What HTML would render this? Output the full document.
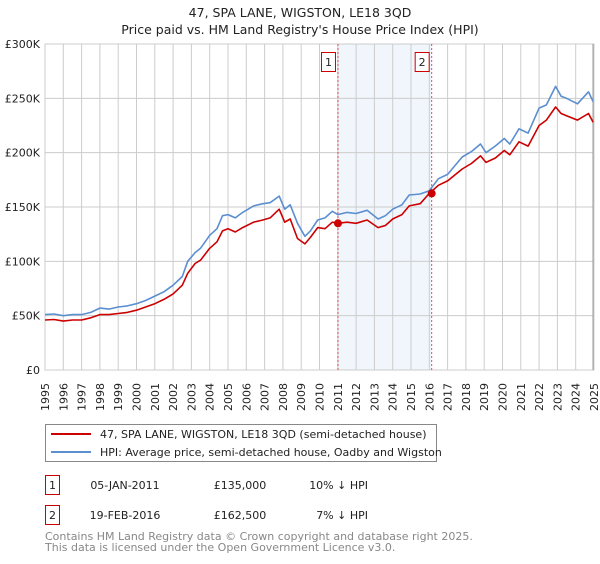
<!DOCTYPE html>
<html><head><meta charset="utf-8"><style>
body{margin:0;background:#fff;font-family:"DejaVu Sans","Liberation Sans",sans-serif;}
svg text{font-family:"DejaVu Sans","Liberation Sans",sans-serif;}
</style></head><body>
<svg width="600" height="560" xmlns="http://www.w3.org/2000/svg">
<text x="300" y="17" font-size="12.5" text-anchor="middle" fill="#222">47, SPA LANE, WIGSTON, LE18 3QD</text>
<text x="300" y="34" font-size="12.5" text-anchor="middle" fill="#222">Price paid vs. HM Land Registry's House Price Index (HPI)</text>
<g id="plot"></g>
<g id="legend">
<rect x="45.5" y="424.5" width="391" height="37" fill="#fff" stroke="#888"/>
<line x1="51" y1="434" x2="91" y2="434" stroke="#cc0000" stroke-width="2"/>
<text x="100" y="438" font-size="11" fill="#222">47, SPA LANE, WIGSTON, LE18 3QD (semi-detached house)</text>
<line x1="51" y1="452" x2="91" y2="452" stroke="#5b8fd0" stroke-width="2"/>
<text x="100" y="456" font-size="11" fill="#222">HPI: Average price, semi-detached house, Oadby and Wigston</text>
</g>
<g font-size="11" fill="#222">
<rect x="45.5" y="475.5" width="14" height="19" fill="#fff" stroke="#cc0000"/>
<text x="52.5" y="489" text-anchor="middle">1</text>
<text x="125" y="489" text-anchor="middle">05-JAN-2011</text>
<text x="240" y="489" text-anchor="middle">£135,000</text>
<text x="368" y="489" text-anchor="end">10% ↓ HPI</text>
<rect x="45.5" y="505.5" width="14" height="19" fill="#fff" stroke="#cc0000"/>
<text x="52.5" y="519" text-anchor="middle">2</text>
<text x="125" y="519" text-anchor="middle">19-FEB-2016</text>
<text x="240" y="519" text-anchor="middle">£162,500</text>
<text x="368" y="519" text-anchor="end">7% ↓ HPI</text>
</g>
<text x="45" y="540" font-size="11" fill="#888">Contains HM Land Registry data © Crown copyright and database right 2025.</text>
<text x="45" y="551" font-size="11" fill="#888">This data is licensed under the Open Government Licence v3.0.</text>
</svg>
<script>
const yTicks=[0,50000,100000,150000,200000,250000,300000];
const yTickLabels=["£0","£50K","£100K","£150K","£200K","£250K","£300K"];
const years=[1995,1996,1997,1998,1999,2000,2001,2002,2003,2004,2005,2006,2007,2008,2009,2010,2011,2012,2013,2014,2015,2016,2017,2018,2019,2020,2021,2022,2023,2024,2025];
const hpiDates=[1995.0,1995.5,1996.0,1996.5,1997.0,1997.5,1998.0,1998.5,1999.0,1999.5,2000.0,2000.5,2001.0,2001.5,2002.0,2002.5,2002.8,2003.2,2003.5,2004.0,2004.4,2004.7,2005.0,2005.4,2005.8,2006.4,2006.9,2007.3,2007.8,2008.1,2008.4,2008.8,2009.2,2009.5,2009.9,2010.3,2010.7,2011.0,2011.5,2012.0,2012.6,2013.2,2013.6,2014.0,2014.5,2014.9,2015.5,2016.0,2016.5,2017.0,2017.8,2018.3,2018.8,2019.1,2019.6,2020.1,2020.4,2020.9,2021.4,2022.0,2022.4,2022.9,2023.2,2023.5,2024.1,2024.7,2024.95];
const hpiValues=[51000,51500,50000,51000,51000,53000,57000,56000,58000,59000,61000,64000,68000,72000,78000,86000,100000,108000,112000,124000,130000,142000,143000,140000,145000,151000,153000,154000,160000,148000,152000,135000,123000,128000,138000,140000,146000,143000,145000,144000,147000,139000,142000,148000,152000,161000,162000,165000,176000,180000,196000,201000,208000,200000,206000,213000,208000,222000,218000,241000,244000,261000,252000,250000,245000,256000,247000];
const ppDates=hpiDates;
const ppValues=[46000,46500,45000,46000,46000,48000,51000,51000,52000,53000,55000,58000,61000,65000,70000,78000,89000,98000,101000,112000,118000,128000,130000,127000,131000,136000,138000,140000,148000,136000,139000,121000,116000,122000,131000,130000,136000,135000,136000,135000,138000,131000,133000,139000,143000,151000,153000,162500,170000,174000,185000,190000,197000,191000,195000,202000,198000,210000,206000,225000,230000,242000,236000,234000,230000,236000,228000];
const sales=[{label:"1",date:2011.01,value:135000},{label:"2",date:2016.13,value:162500}];
const NS="http://www.w3.org/2000/svg";
const X0=45,X1=594,Y0=370,Y1=44;
const xs=d=>X0+(d-1995)/(2025-1995)*(X1-X0);
const ys=v=>Y0-v/300000*(Y0-Y1);
const g=document.getElementById('plot');
function mk(t,a){const e=document.createElementNS(NS,t);for(const k in a)e.setAttribute(k,a[k]);g.appendChild(e);return e;}
let e=mk('rect',{x:xs(sales[0].date),y:Y1,width:xs(sales[1].date)-xs(sales[0].date),height:Y0-Y1,fill:'#eef4fd',opacity:0.8});


years.forEach(yr=>{
 const l=mk('line',{x1:xs(yr),x2:xs(yr),y1:Y1,y2:Y0,stroke:'#ccc','stroke-width':1});
 
 
 const t=mk('text',{x:0,y:0,'font-size':11,fill:'#222','text-anchor':'end',transform:`translate(${xs(yr)+4},383) rotate(-90)`});
 t.textContent=yr;
 
 
});
yTicks.forEach((v,i)=>{
 const l=mk('line',{x1:X0,x2:X1,y1:ys(v),y2:ys(v),stroke:'#ccc','stroke-width':1});
 
 
 const t=mk('text',{x:X0-5,y:ys(v)+4,'font-size':11,fill:'#222','text-anchor':'end'});
 t.textContent=yTickLabels[i];
 
 
});
e=mk('rect',{x:X0,y:Y1,width:X1-X0,height:Y0-Y1,fill:'none',stroke:'#ccc'});


e=mk('line',{x1:X1-1,x2:X1-1,y1:Y1,y2:Y0,stroke:'#999'});


sales.forEach(s=>{
 const l=mk('line',{x1:xs(s.date),x2:xs(s.date),y1:Y1,y2:Y0,stroke:'#e05050','stroke-dasharray':'2,2','stroke-width':1});
 
 
 const r=mk('rect',{x:xs(s.date)-16.5,y:52.5,width:14,height:19,fill:'#fff',stroke:'#cc0000'});
 
 
 const t=mk('text',{x:xs(s.date)-9.5,y:66,'font-size':11,fill:'#222','text-anchor':'middle'});
 t.textContent=s.label;
 
 
});
function line(d,v,c,name){
 const p=mk('polyline',{points:d.map((x,i)=>xs(x).toFixed(1)+','+ys(v[i]).toFixed(1)).join(' '),fill:'none',stroke:c,'stroke-width':1.6,'stroke-linejoin':'round'});
 
 
}
line(hpiDates,hpiValues,'#5b8fd0','hpi-line');
line(ppDates,ppValues,'#cc0000','price-paid-line');
sales.forEach(s=>{
 const c=mk('circle',{cx:xs(s.date),cy:ys(s.value),r:4,fill:'#cc0000'});
 
 
});
</script>
</body></html>
